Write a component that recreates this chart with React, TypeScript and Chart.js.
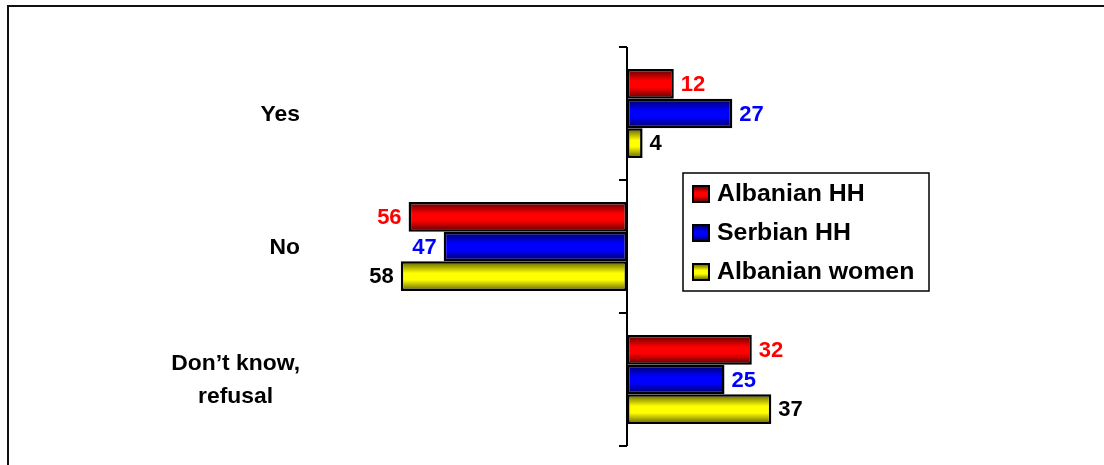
import React, { useEffect, useRef } from "react";
import { Chart, registerables } from "chart.js";

Chart.register(...registerables);

// ---- data ----
const categories: string[][] = [["Yes"], ["No"], ["Don’t know,", "refusal"]];
const seriesNames: string[] = ["Albanian HH", "Serbian HH", "Albanian women"];
const albanianHH: number[] = [12, -56, 32];
const serbianHH: number[] = [27, -47, 25];
const albanianWomen: number[] = [4, -58, 37];
const xMin = -80;
const xMax = 120;

// ---- styles ----
const FONT = "'Liberation Sans', Arial, Helvetica, sans-serif";
const CAT_PCT = 0.67;
const palettes = [
  { light: "#ff0000", dark: "#5a0000", label: "#ff0000" },
  { light: "#0000ff", dark: "#00005a", label: "#0000ff" },
  { light: "#ffff00", dark: "#5e5e00", label: "#000000" },
];

function makeGradient(chart: any, top: number, h: number, pal: any) {
  const g = chart.ctx.createLinearGradient(0, top, 0, top + h);
  g.addColorStop(0, pal.dark);
  g.addColorStop(0.4, pal.light);
  g.addColorStop(0.62, pal.light);
  g.addColorStop(1, pal.dark);
  return g;
}

function barBackground(ctx: any) {
  const chart = ctx.chart;
  const pal = palettes[ctx.datasetIndex] || palettes[0];
  const ys = chart.scales && chart.scales.y;
  if (!ys || ctx.dataIndex === undefined || !chart.chartArea) return pal.light;
  const band = ys.height / categories.length;
  const nSeries = chart.data.datasets.length;
  const bh = (band * CAT_PCT) / nSeries;
  const center = ys.getPixelForValue(ctx.dataIndex);
  const top = center - (nSeries / 2) * bh + ctx.datasetIndex * bh;
  return makeGradient(chart, top, bh, pal);
}

const framePlugin = {
  id: "frame",
  beforeDraw(chart: any) {
    const c = chart.ctx;
    c.save();
    c.fillStyle = "#ffffff";
    c.fillRect(0, 0, chart.width, chart.height);
    c.fillStyle = "#111111";
    c.fillRect(7, 5, chart.width, 2);
    c.fillRect(7, 5, 2, chart.height);
    c.restore();
  },
};

const axisPlugin = {
  id: "zeroAxis",
  afterDatasetsDraw(chart: any) {
    const c = chart.ctx;
    const xs = chart.scales.x;
    const area = chart.chartArea;
    const x0 = Math.round(xs.getPixelForValue(0));
    c.save();
    c.strokeStyle = "#000";
    c.lineWidth = 2;
    c.beginPath();
    c.moveTo(x0, area.top);
    c.lineTo(x0, area.bottom);
    const band = (area.bottom - area.top) / categories.length;
    for (let i = 0; i <= categories.length; i++) {
      const y = Math.round(area.top + i * band);
      c.moveTo(x0 - 8, y);
      c.lineTo(x0, y);
    }
    c.stroke();
    c.restore();
  },
};

const labelsPlugin = {
  id: "valueLabels",
  afterDraw(chart: any) {
    const c = chart.ctx;
    c.save();
    // value labels
    c.font = `bold 22px ${FONT}`;
    c.textBaseline = "middle";
    chart.data.datasets.forEach((ds: any, di: number) => {
      const meta = chart.getDatasetMeta(di);
      c.fillStyle = palettes[di].label;
      meta.data.forEach((el: any, i: number) => {
        const v = ds.data[i];
        const txt = String(Math.abs(v));
        if (v >= 0) {
          c.textAlign = "left";
          c.fillText(txt, el.x + 7, el.y + 1);
        } else {
          c.textAlign = "right";
          c.fillText(txt, el.x - 7, el.y + 1);
        }
      });
    });

    // category labels (centered lines, right edge near axis block)
    const ys = chart.scales.y;
    const area = chart.chartArea;
    const rightEdge = area.left - 15;
    const sx = 1.04;
    const lineH = 33;
    c.fillStyle = "#000";
    c.font = `bold 22px ${FONT}`;
    c.textAlign = "center";
    c.textBaseline = "middle";
    categories.forEach((lines, i) => {
      const cy = ys.getPixelForValue(i);
      const maxW = Math.max(...lines.map((l) => c.measureText(l).width)) * sx;
      const cx = rightEdge - maxW / 2;
      lines.forEach((l, k) => {
        const y = cy + (k - (lines.length - 1) / 2) * lineH + 1;
        c.save();
        c.translate(cx, y);
        c.scale(sx, 1);
        c.fillText(l, 0, 0);
        c.restore();
      });
    });

    // legend
    const bx = 683, by = 173, bw = 246, bhh = 118;
    c.fillStyle = "#fff";
    c.fillRect(bx, by, bw, bhh);
    c.strokeStyle = "#000";
    c.lineWidth = 1.5;
    c.strokeRect(bx, by, bw, bhh);
    const rows = [194, 233, 272];
    const lsx = 1.08;
    c.font = `bold 23px ${FONT}`;
    c.textAlign = "left";
    c.textBaseline = "middle";
    seriesNames.forEach((name, i) => {
      const cy = rows[i];
      const ms = 16;
      const mx = 693;
      const my = cy - ms / 2;
      c.fillStyle = makeGradient(chart, my, ms, palettes[i]);
      c.fillRect(mx, my, ms, ms);
      c.strokeStyle = "#000";
      c.lineWidth = 2;
      c.strokeRect(mx, my, ms, ms);
      c.fillStyle = "#000";
      c.save();
      c.translate(717, cy + 1);
      c.scale(lsx, 1);
      c.fillText(name, 0, 0);
      c.restore();
    });
    c.restore();
  },
};

export default function App() {
  const ref = useRef<HTMLCanvasElement | null>(null);

  useEffect(() => {
    if (!ref.current) return;
    const seriesValues = [albanianHH, serbianHH, albanianWomen];
    const chart = new Chart(ref.current, {
      type: "bar",
      data: {
        labels: categories.map((l) => l.join(" ")),
        datasets: seriesNames.map((name, i) => ({
          label: name,
          data: seriesValues[i],
          backgroundColor: barBackground,
          borderColor: "#000000",
          borderWidth: 2.5,
          borderSkipped: false,
          categoryPercentage: CAT_PCT,
          barPercentage: 1,
        })),
      },
      options: {
        indexAxis: "y",
        responsive: false,
        maintainAspectRatio: false,
        animation: false,
        layout: { padding: { top: 47, bottom: 19, left: 0, right: 9 } },
        plugins: {
          legend: { display: false },
          tooltip: { enabled: false },
          title: { display: false },
        },
        scales: {
          x: {
            type: "linear",
            min: xMin,
            max: xMax,
            display: false,
          },
          y: {
            type: "category",
            grid: { display: false },
            border: { display: false },
            ticks: { display: false },
            afterFit: (scale: any) => {
              scale.width = 315;
            },
          },
        },
      },
      plugins: [framePlugin, axisPlugin, labelsPlugin],
    } as any);
    return () => chart.destroy();
  }, []);

  return (
    <div style={{ position: "absolute", left: 0, top: 0, width: 1104, height: 465 }}>
      <canvas ref={ref} width={1104} height={465} style={{ width: 1104, height: 465, display: "block" }} />
    </div>
  );
}
